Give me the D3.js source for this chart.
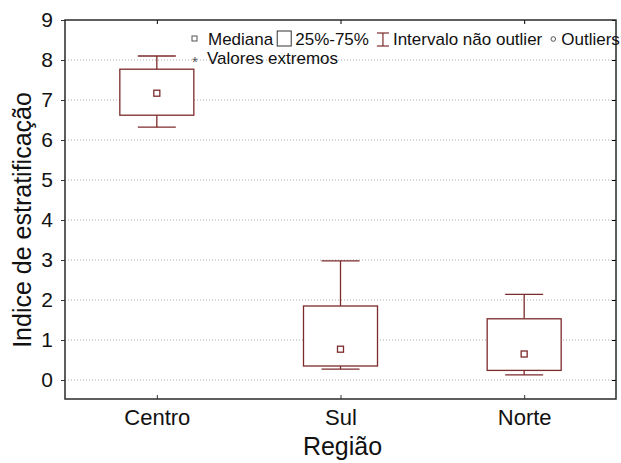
<!DOCTYPE html>
<html>
<head>
<meta charset="utf-8">
<script src="https://cdn.jsdelivr.net/npm/d3@7"></script>
<style>
  body { margin: 0; background: #fff; }
  svg { display: block; font-family: "Liberation Sans", Arial, sans-serif; }
</style>
</head>
<body>
<script>
const width = 621;
const height = 463;

// box plot values per region
const regions = ["Centro", "Sul", "Norte"];
const whiskerLow = [6.32, 0.27, 0.13];
const q1 = [6.62, 0.35, 0.24];
const median = [7.17, 0.77, 0.65];
const q3 = [7.77, 1.85, 1.53];
const whiskerHigh = [8.1, 2.98, 2.14];
const yTicks = [0, 1, 2, 3, 4, 5, 6, 7, 8, 9];

const plot = { left: 65, right: 616, top: 20, bottom: 399 };
const boxColor = "#7d2a2a";

const svg = d3.select("body")
    .append("svg")
    .attr("width", width)
    .attr("height", height);

const x = d3.scalePoint()
    .domain(regions)
    .range([plot.left, plot.right])
    .padding(0.5);

const y = d3.scaleLinear()
    .domain([-0.475, 9])
    .range([plot.bottom, plot.top]);

const boxes = regions.map((r, i) => ({
    region: r, lo: whiskerLow[i], q1: q1[i], med: median[i], q3: q3[i], hi: whiskerHigh[i]
}));

// dotted grid
svg.append("g")
    .selectAll("line")
    .data(yTicks.filter(d => d < 9))
    .enter()
    .append("line")
    .attr("x1", plot.left)
    .attr("x2", plot.right)
    .attr("y1", d => y(d))
    .attr("y2", d => y(d))
    .attr("stroke", "#a8a8a8")
    .attr("stroke-width", 1)
    .attr("stroke-dasharray", "1,2");

// left axis
const yAxis = svg.append("g")
    .attr("transform", `translate(${plot.left},0)`)
    .call(d3.axisLeft(y).tickValues(yTicks).tickSize(4).tickPadding(8));
yAxis.select(".domain").remove();
yAxis.selectAll("text").attr("font-size", 21).attr("fill", "#111");
yAxis.selectAll("line").attr("stroke", "#333");

// right side inner ticks
svg.append("g")
    .attr("transform", `translate(${plot.right},0)`)
    .call(d3.axisLeft(y).tickValues(yTicks).tickSize(4).tickFormat(""))
    .select(".domain").remove();

// bottom axis
const xAxis = svg.append("g")
    .attr("transform", `translate(0,${plot.bottom})`)
    .call(d3.axisBottom(x).tickSize(-4));
xAxis.select(".domain").remove();
xAxis.selectAll("line").attr("stroke", "#333");
xAxis.selectAll("text")
    .attr("y", 26)
    .attr("dy", 0)
    .attr("font-size", 22)
    .attr("fill", "#111");

// top inner ticks
svg.append("g")
    .attr("transform", `translate(0,${plot.top})`)
    .call(d3.axisTop(x).tickSize(-4).tickFormat(""))
    .select(".domain").remove();

// frame
svg.append("rect")
    .attr("x", plot.left)
    .attr("y", plot.top)
    .attr("width", plot.right - plot.left)
    .attr("height", plot.bottom - plot.top)
    .attr("fill", "none")
    .attr("stroke", "#2a2a2a")
    .attr("stroke-width", 1.5);

// boxes
const boxW = 74;
const capW = 38;
const g = svg.append("g")
    .selectAll("g")
    .data(boxes)
    .enter()
    .append("g")
    .attr("stroke", boxColor)
    .attr("stroke-width", 1.3)
    .attr("fill", "none");

g.append("line")
    .attr("x1", d => x(d.region)).attr("x2", d => x(d.region))
    .attr("y1", d => y(d.hi)).attr("y2", d => y(d.q3));
g.append("line")
    .attr("x1", d => x(d.region)).attr("x2", d => x(d.region))
    .attr("y1", d => y(d.q1)).attr("y2", d => y(d.lo));
g.append("line")
    .attr("x1", d => x(d.region) - capW / 2).attr("x2", d => x(d.region) + capW / 2)
    .attr("y1", d => y(d.hi)).attr("y2", d => y(d.hi));
g.append("line")
    .attr("x1", d => x(d.region) - capW / 2).attr("x2", d => x(d.region) + capW / 2)
    .attr("y1", d => y(d.lo)).attr("y2", d => y(d.lo));
g.append("rect")
    .attr("x", d => x(d.region) - boxW / 2)
    .attr("y", d => y(d.q3))
    .attr("width", boxW)
    .attr("height", d => y(d.q1) - y(d.q3))
    .attr("fill", "#fff");
g.append("rect")
    .attr("x", d => x(d.region) - 3)
    .attr("y", d => y(d.med) - 3)
    .attr("width", 6)
    .attr("height", 6)
    .attr("fill", "#fff");

// axis titles
svg.append("text")
    .attr("x", (plot.left + plot.right) / 2 + 2)
    .attr("y", 455)
    .attr("text-anchor", "middle")
    .attr("font-size", 25)
    .attr("fill", "#111")
    .text("Região");

svg.append("text")
    .attr("transform", "translate(31,220) rotate(-90)")
    .attr("text-anchor", "middle")
    .attr("font-size", 25)
    .attr("fill", "#111")
    .text("Indice de estratificação");

// legend
const leg = svg.append("g").attr("font-size", 17).attr("fill", "#111");
let lx = 192;
const row1 = 45, row2 = 64;

function addText(txt, xx, yy) {
    const t = leg.append("text").attr("x", xx).attr("y", yy).text(txt);
    return t.node().getComputedTextLength();
}

leg.append("rect").attr("x", lx).attr("y", row1 - 9).attr("width", 5).attr("height", 5)
    .attr("fill", "#fff").attr("stroke", "#555").attr("stroke-width", 1);
lx = 208;
lx += addText("Mediana", lx, row1) + 4;
leg.append("rect").attr("x", lx).attr("y", row1 - 14).attr("width", 14).attr("height", 15)
    .attr("fill", "#fff").attr("stroke", "#333").attr("stroke-width", 1);
lx += 18;
lx += addText("25%-75%", lx, row1) + 8;
const ib = leg.append("g").attr("stroke", boxColor).attr("stroke-width", 1.2);
ib.append("line").attr("x1", lx + 6).attr("x2", lx + 6).attr("y1", row1 - 12).attr("y2", row1 + 1);
ib.append("line").attr("x1", lx).attr("x2", lx + 12).attr("y1", row1 - 12).attr("y2", row1 - 12);
ib.append("line").attr("x1", lx).attr("x2", lx + 12).attr("y1", row1 + 1).attr("y2", row1 + 1);
lx += 16;
lx += addText("Intervalo não outlier", lx, row1) + 8;
leg.append("circle").attr("cx", lx + 3).attr("cy", row1 - 6).attr("r", 2.3)
    .attr("fill", "none").attr("stroke", "#555").attr("stroke-width", 1);
lx += 11;
addText("Outliers", lx, row1);

leg.append("text").attr("x", 192).attr("y", row2 + 3).attr("font-size", 15).attr("fill", "#555").text("*");
addText("Valores extremos", 207, row2);
</script>
</body>
</html>
